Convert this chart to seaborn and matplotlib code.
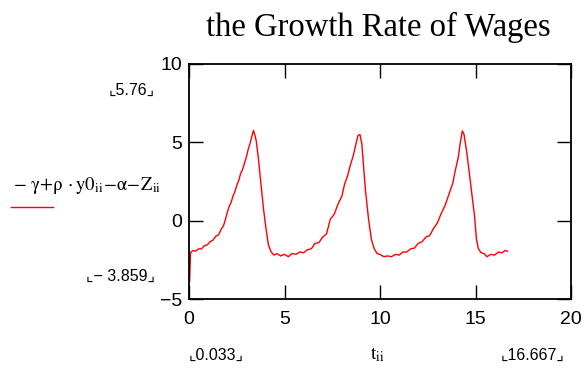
import matplotlib
matplotlib.use("Agg")
import matplotlib.pyplot as plt
import seaborn as sns
import numpy as np
import pandas as pd

title = "the Growth Rate of Wages"
x_ticks = [0, 5, 10, 15, 20]
y_ticks = [-5, 0, 5, 10]
x_range_labels = ["0.033", "16.667"]
y_range_labels = ["5.76", "\u2212 3.859"]

t = [0.033, 0.08, 0.2, 0.35, 0.5, 0.65, 0.8, 0.95, 1.1, 1.25, 1.4, 1.55, 1.7, 1.8,
     1.9, 2.0, 2.1, 2.2, 2.3, 2.4, 2.5, 2.6, 2.7, 2.8, 2.9, 3.0, 3.1, 3.2, 3.3, 3.38,
     3.45, 3.52, 3.64, 3.77, 3.9, 4.03, 4.16, 4.3, 4.45, 4.6, 4.8, 5.0, 5.2, 5.4, 5.6,
     5.8, 6.0, 6.2, 6.4, 6.6, 6.8, 7.0, 7.2, 7.4, 7.6, 7.8, 8.0, 8.15, 8.3, 8.45, 8.6,
     8.75, 8.85, 8.95, 9.05, 9.15, 9.25, 9.4, 9.55, 9.7, 9.85, 10.0, 10.2, 10.4, 10.6,
     10.8, 11.0, 11.2, 11.4, 11.6, 11.8, 12.0, 12.2, 12.4, 12.6, 12.8, 13.0, 13.2,
     13.4, 13.6, 13.8, 13.95, 14.1, 14.2, 14.31, 14.4, 14.55, 14.7, 14.85, 14.95,
     15.05, 15.15, 15.3, 15.45, 15.6, 15.8, 16.0, 16.2, 16.4, 16.55, 16.667]
w = [-3.859, -2.05, -1.9, -1.95, -1.8, -1.8, -1.6, -1.55, -1.35, -1.25, -1.0, -0.9, -0.5, -0.35,
     0.05, 0.5, 0.9, 1.15, 1.55, 1.85, 2.25, 2.55, 3.0, 3.25, 3.65, 4.05, 4.55, 4.95, 5.45, 5.76,
     5.45, 5.1, 3.9, 2.3, 0.76, -0.5, -1.56, -2.0, -2.2, -2.1, -2.25, -2.15, -2.3, -2.1, -2.15,
     -2.0, -2.05, -1.85, -1.8, -1.45, -1.4, -1.05, -0.85, 0.1, 0.4, 1.05, 1.55, 2.35, 2.85, 3.55, 4.15,
     4.95, 5.45, 5.5, 4.9, 3.3, 1.8, 0.1, -1.2, -1.8, -2.1, -2.15, -2.3, -2.25, -2.3,
     -2.15, -2.2, -2.0, -2.0, -1.8, -1.75, -1.45, -1.35, -1.05, -0.95, -0.5, -0.15, 0.45,
     0.95, 1.65, 2.35, 3.25, 4.05, 4.95, 5.73, 5.5, 4.3, 2.8, 1.3, 0.3,
     -1.2, -1.8, -2.05, -2.1, -2.3, -2.15, -2.2, -2.0, -2.05, -1.9, -1.95]

W, H = 585, 371
fig = plt.figure(figsize=(W / 100, H / 100), dpi=100)
ax = fig.add_axes([189 / W, 1 - 299 / H, (571 - 189) / W, (299 - 64) / H])

df = pd.DataFrame({"t": t, "w": w})
sns.lineplot(data=df, x="t", y="w", ax=ax, color="#ff0000", linewidth=1.0,
             sort=False, estimator=None)

ax.set_xlim(0, 20)
ax.set_ylim(-5, 10)
ax.set_xticks(x_ticks)
ax.set_yticks(y_ticks)
tick_font = ["Liberation Sans", "DejaVu Sans"]
ax.set_xticklabels([str(v) for v in x_ticks], family=tick_font, fontsize=14)
ax.set_yticklabels([str(v).replace("-", "\u2212") for v in y_ticks], family=tick_font, fontsize=14)
ax.tick_params(direction="in", length=10, width=1.0, top=True, right=True, color="black")
ax.tick_params(axis="x", pad=9)
ax.tick_params(axis="y", pad=5)
ax.set_xlabel("")
ax.set_ylabel("")
for s in ax.spines.values():
    s.set_visible(True)
    s.set_color("black")
    s.set_linewidth(1.3)


def fx(px):
    return px / W


def fy(py):
    return 1 - py / H


fig.text(fx(378), fy(27), title, family="Liberation Serif", fontsize=23.5,
         ha="center", va="center")

fig.text(fx(155), fy(90), "\u231e" + y_range_labels[0] + "\u231f", family=tick_font,
         fontsize=11.5, ha="right", va="center")
fig.text(fx(155), fy(276), "\u231e" + y_range_labels[1] + "\u231f", family=tick_font,
         fontsize=11.5, ha="right", va="center")
fig.text(fx(189), fy(355), "\u231e" + x_range_labels[0] + "\u231f", family=tick_font,
         fontsize=11.5, ha="left", va="center")
fig.text(fx(565), fy(355), "\u231e" + x_range_labels[1] + "\u231f", family=tick_font,
         fontsize=11.5, ha="right", va="center")

plt.rcParams["mathtext.fontset"] = "stix"
fig.text(fx(377), fy(355), r"$\mathrm{t}_{\mathrm{ii}}$", fontsize=14, ha="center", va="center")
fig.text(fx(13), fy(186),
         r"$\mathrm{-\ γ\!+\!ρ\,\cdot y0}_{\mathrm{ii}}\mathrm{\!-\!α\!-\!Z}_{\mathrm{ii}}$",
         fontsize=13.5, ha="left", va="center")
fig.add_artist(plt.Line2D([fx(11), fx(53)], [fy(207), fy(207)], color="#ff0000", linewidth=1.0))

fig.savefig("out.png", dpi=100)
